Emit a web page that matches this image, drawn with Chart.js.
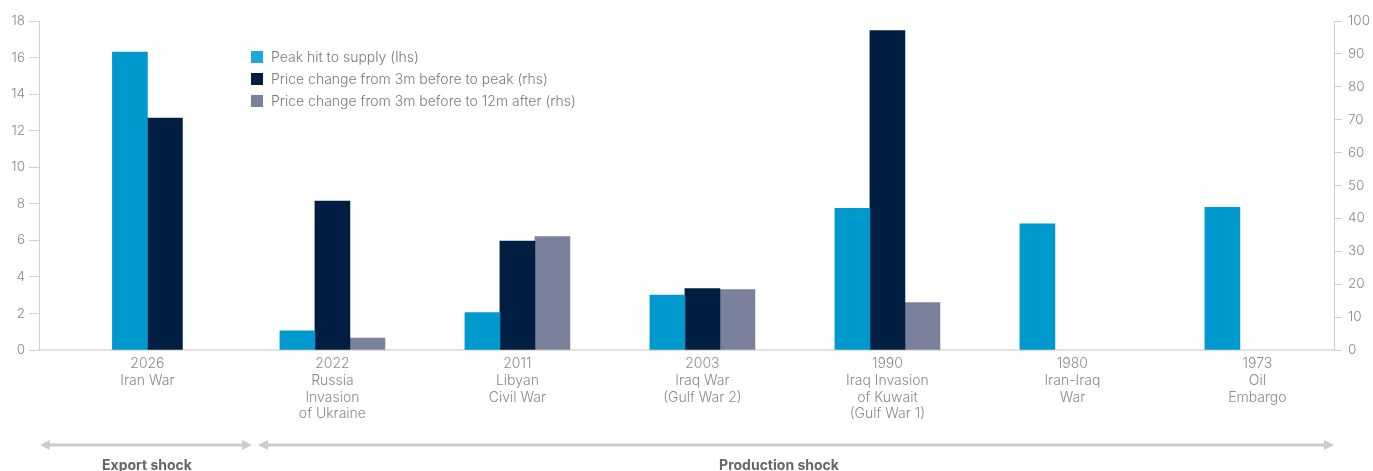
<!DOCTYPE html>
<html><head><meta charset="utf-8">
<script src="https://cdn.jsdelivr.net/npm/chart.js@4"></script>
<style>
html,body{margin:0;padding:0;background:#fff;}
#wrap{position:relative;width:1373px;height:471px;overflow:hidden;font-family:Inter,"Open Sans",sans-serif;}
#c{position:absolute;left:0;top:0;}
.leg{position:absolute;left:251px;height:16px;font-size:14px;line-height:16px;color:#7a7a7a;font-weight:300;white-space:nowrap;}
.leg i{position:absolute;left:0;top:2px;width:12px;height:12px;}
.leg span{position:absolute;left:20px;top:0;}
.shock{position:absolute;top:456px;font-size:14px;font-weight:700;color:#666;transform:translateX(-50%);white-space:nowrap;}
svg{position:absolute;left:0;top:0;}
</style></head>
<body>
<div id="wrap">
<canvas id="c" width="1373" height="471"></canvas>
<div class="leg" style="top:49px"><i style="background:#1fa6df"></i><span>Peak hit to supply (lhs)</span></div>
<div class="leg" style="top:71px"><i style="background:#001e41"></i><span>Price change from 3m before to peak (rhs)</span></div>
<div class="leg" style="top:93px"><i style="background:#7a819b"></i><span>Price change from 3m before to 12m after (rhs)</span></div>
<svg width="1373" height="471">
  <g stroke="#cccccc" stroke-width="3" fill="#cccccc">
    <line x1="48" y1="445" x2="244" y2="445"/>
    <polygon points="40,445 50,440 50,450" stroke="none"/>
    <polygon points="252,445 242,440 242,450" stroke="none"/>
    <line x1="266" y1="445" x2="1325" y2="445"/>
    <polygon points="258,445 268,440 268,450" stroke="none"/>
    <polygon points="1334,445 1324,440 1324,450" stroke="none"/>
  </g>
</svg>
<div class="shock" style="left:147px">Export shock</div>
<div class="shock" style="left:779px">Production shock</div>
</div>
<script>
// Categories (events)
const years = ["2026", "2022", "2011", "2003", "1990", "1980", "1973"];
const events = [["Iran War"], ["Russia", "Invasion", "of Ukraine"], ["Libyan", "Civil War"], ["Iraq War", "(Gulf War 2)"], ["Iraq Invasion", "of Kuwait", "(Gulf War 1)"], ["Iran-Iraq", "War"], ["Oil", "Embargo"]];
// Series values
const peakHitSupply = [16.3, 1.05, 2.05, 3.0, 7.75, 6.9, 7.8];          // lhs
const priceChangeToPeak = [70.5, 45.3, 33.1, 18.7, 97.1, 0, 0];         // rhs (no bar shown for 1980/1973)
const priceChangeTo12mAfter = [null, 3.6, 34.5, 18.4, 14.4, 0, 0];     // rhs
// Tick settings
const leftTicks = {min: 0, max: 18, step: 2};
const rightTicks = {min: 0, max: 100, step: 10};
const xRange = {min: -0.586, max: 6.414};

const toPts = arr => arr.map((v, i) => ({x: i, y: v}));
const fillFor = color => ctx => (ctx.raw && ctx.raw.y === 0) ? 'rgba(0,0,0,0)' : color;
const tickFont = {family: "Inter, 'Open Sans', sans-serif", size: 14, weight: 300, lineHeight: 1.18};
const yFont = {family: "Inter, 'Open Sans', sans-serif", size: 13.5, weight: 300};
const tickColor = '#8a8a8a';

new Chart(document.getElementById('c'), {
  type: 'bar',
  data: {
    datasets: [
      {label: 'Peak hit to supply (lhs)', data: toPts(peakHitSupply), backgroundColor: fillFor('#0099ce'), yAxisID: 'y'},
      {label: 'Price change from 3m before to peak (rhs)', data: toPts(priceChangeToPeak), backgroundColor: fillFor('#001e41'), yAxisID: 'y1'},
      {label: 'Price change from 3m before to 12m after (rhs)', data: toPts(priceChangeTo12mAfter), backgroundColor: fillFor('#7a819b'), yAxisID: 'y1'}
    ]
  },
  options: {
    responsive: false,
    animation: false,
    layout: {padding: {top: 21, bottom: 0, left: 0, right: 0}},
    plugins: {legend: {display: false}, tooltip: {enabled: false}},
    datasets: {bar: {barThickness: 35, skipNull: true, borderWidth: 0}},
    scales: {
      x: {
        type: 'linear', min: xRange.min, max: xRange.max, offset: false,
        grid: {display: false, drawTicks: false},
        border: {display: true, color: '#e2e2e2', width: 2},
        afterBuildTicks: s => { s.ticks = years.map((_, i) => ({value: i})); },
        ticks: {autoSkip: false, maxRotation: 0, padding: 6, color: tickColor, font: tickFont,
          callback: (v, i) => [years[i]].concat(events[i])},
        afterFit: s => { s.height = 121; }
      },
      y: {
        position: 'left', min: leftTicks.min, max: leftTicks.max,
        ticks: {stepSize: leftTicks.step, color: tickColor, font: yFont, padding: 4},
        grid: {drawOnChartArea: false, drawTicks: true, tickLength: 10, color: '#d0d0d0'},
        border: {display: true, color: '#d0d0d0', width: 1},
        afterFit: s => { s.width = 39; }
      },
      y1: {
        position: 'right', min: rightTicks.min, max: rightTicks.max,
        ticks: {stepSize: rightTicks.step, color: tickColor, font: yFont, padding: 6},
        grid: {drawOnChartArea: false, drawTicks: true, tickLength: 8, color: '#d0d0d0'},
        border: {display: true, color: '#d0d0d0', width: 1},
        afterFit: s => { s.width = 39; }
      }
    }
  }
});
</script>
</body></html>
